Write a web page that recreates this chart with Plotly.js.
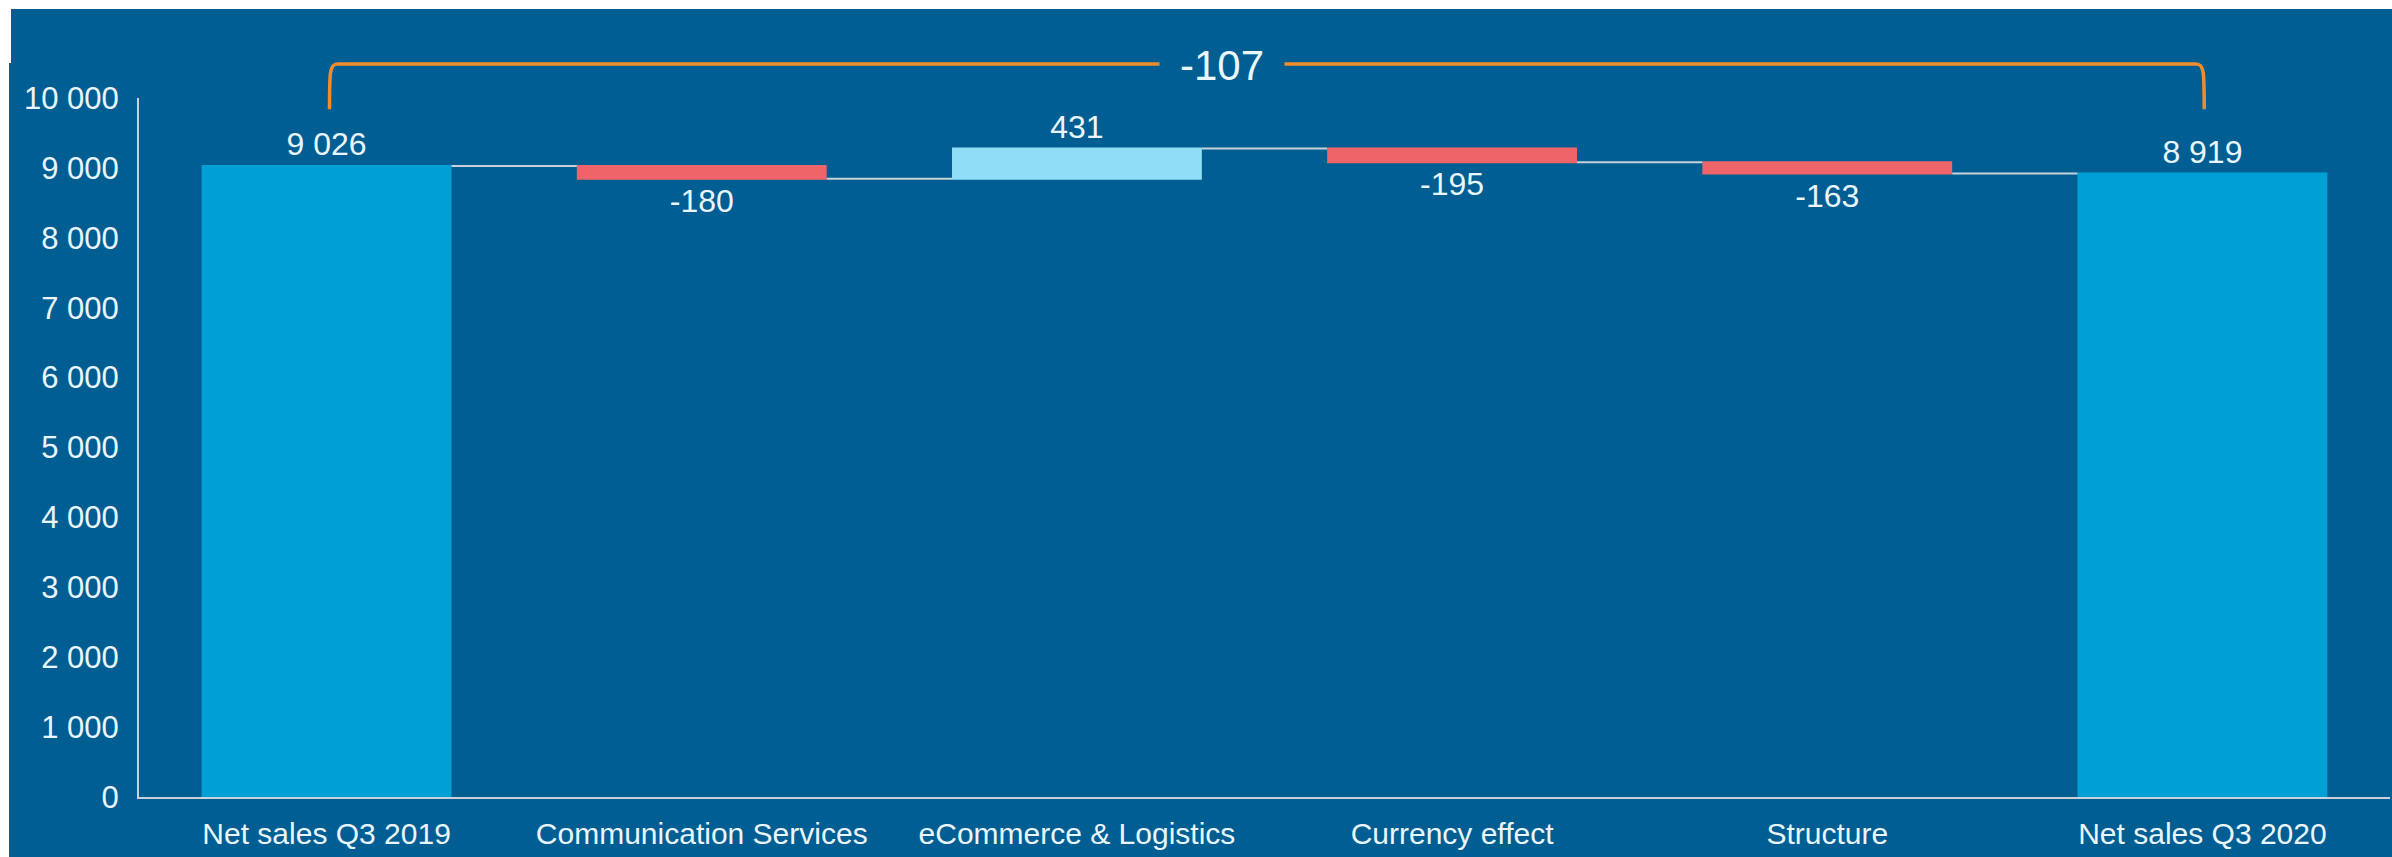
<!DOCTYPE html>
<html>
<head>
<meta charset="utf-8">
<script src="https://cdn.plot.ly/plotly-3.0.1.min.js"></script>
<style>
  html, body { margin: 0; padding: 0; background: #ffffff; }
  #chart { position: absolute; left: 9px; top: 9px; width: 2383px; height: 848px; }
  #notch { position: absolute; left: 9px; top: 9px; width: 2px; height: 54px; background: #ffffff; z-index: 5; }
</style>
</head>
<body>
<div id="chart"></div>
<div id="notch"></div>
<script>
// ---- data ----
var categories = ["Net sales Q3 2019", "Communication Services", "eCommerce & Logistics", "Currency effect", "Structure", "Net sales Q3 2020"];
var measures = ["absolute", "relative", "relative", "relative", "relative", "total"];
var values = [9026, -180, 431, -195, -163, 8919];
var bracketLabel = "-107";
var yTickVals = [0, 1000, 2000, 3000, 4000, 5000, 6000, 7000, 8000, 9000, 10000];

function fmt(v) {
  var s = Math.abs(v).toString().replace(/\B(?=(\d{3})+(?!\d))/g, " ");
  return (v < 0 ? "-" : "") + s;
}
var labels = values.map(fmt);

var BG = "#005E93";
var TXT = "#EAF6FB";
var LINE = "#C8D2DA";
var FONT = "Liberation Sans, Arial, sans-serif";

var trace = {
  type: "waterfall",
  x: categories,
  y: values,
  measure: measures,
  text: labels,
  textposition: "outside",
  textfont: { family: FONT, size: 32, color: TXT },
  cliponaxis: false,
  hoverinfo: "skip",
  increasing: { marker: { color: "#8FDDF7", line: { width: 0 } } },
  decreasing: { marker: { color: "#EF6468", line: { width: 0 } } },
  totals: { marker: { color: "#00A0D6", line: { width: 0 } } },
  connector: { mode: "between", line: { color: LINE, width: 2 } }
};

// bracket in paper coordinates, anchored on first and last category centres
var n = categories.length;
var xL = 0.5 / n + 0.0013, xR = (n - 0.5) / n + 0.0008;
var yB = 0.984, yT = 1.0486;
var dx = 0.0036, dyc = 0.012;
var bracketPath = "M " + xL + "," + yB +
  " C " + xL + "," + (yT - dyc) + " " + xL + "," + yT + " " + (xL + dx) + "," + yT +
  " L " + (xR - dx) + "," + yT +
  " C " + xR + "," + yT + " " + xR + "," + (yT - dyc) + " " + xR + "," + yB;

var layout = {
  width: 2383, height: 848,
  paper_bgcolor: BG,
  plot_bgcolor: BG,
  margin: { l: 130.4, r: 1.6, t: 89, b: 60 },
  separators: ", ",
  showlegend: false,
  waterfallgap: 0.334,
  font: { family: FONT, size: 31, color: TXT },
  xaxis: {
    type: "category",
    range: [-0.5, n - 0.5],
    showgrid: false, zeroline: false,
    showline: true, linecolor: LINE, linewidth: 2,
    ticks: "", ticklabelstandoff: 9,
    tickfont: { family: FONT, size: 30, color: TXT },
    fixedrange: true
  },
  yaxis: {
    range: [0, 10000],
    tickvals: yTickVals,
    tickformat: ",d",
    showgrid: false, zeroline: false,
    showline: true, linecolor: LINE, linewidth: 2,
    ticks: "", ticklabelstandoff: 12,
    tickfont: { family: FONT, size: 31, color: TXT },
    fixedrange: true
  },
  shapes: [{
    type: "path", xref: "paper", yref: "paper",
    path: bracketPath,
    line: { color: "#F28C2A", width: 3.5 },
    layer: "above"
  }],
  annotations: [{
    xref: "paper", yref: "paper",
    x: 0.481, y: 1.0472,
    xanchor: "center", yanchor: "middle",
    text: bracketLabel,
    showarrow: false,
    font: { family: FONT, size: 42, color: TXT },
    bgcolor: BG,
    borderpad: 20
  }]
};

Plotly.newPlot("chart", [trace], layout, { displayModeBar: false, staticPlot: true });
</script>
</body>
</html>
